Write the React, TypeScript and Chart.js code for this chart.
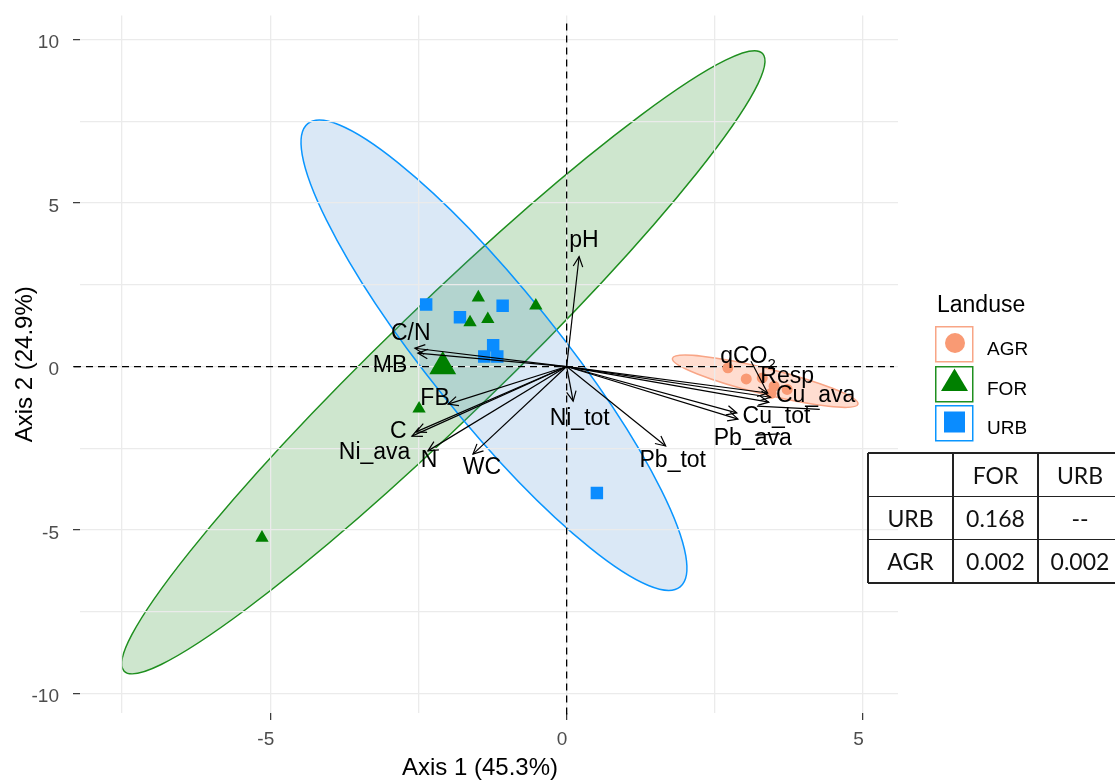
import React, { useEffect, useRef } from "react";
import { Chart, registerables } from "chart.js";

Chart.register(...registerables);

const FONT = "'Liberation Sans', Arial, sans-serif";

// Axis ranges and ticks
const xMin = -8.21;
const xMax = 5.59;
const yMin = -10.6;
const yMax = 10.74;
const xTickValues = [-7.5, -5, -2.5, 0, 2.5, 5];
const yTickValues = [-10, -7.5, -5, -2.5, 0, 2.5, 5, 7.5, 10];
const xTitle = "Axis 1 (45.3%)";
const yTitle = "Axis 2 (24.9%)";

// Site scores
const forX = [-1.49, -0.52, -1.63, -1.33, -2.49, -5.14];
const forY = [2.11, 1.86, 1.35, 1.45, -1.29, -5.24];
const forBigX = [-2.09];
const forBigY = [0.0];
const urbX = [-2.37, -1.08, -1.8, -1.24, -1.39, -1.17, 0.51];
const urbY = [1.9, 1.86, 1.51, 0.65, 0.31, 0.31, -3.87];
const agrX = [2.72, 3.03, 3.3, 3.5, 3.72, 3.45];
const agrY = [-0.04, -0.38, -0.35, -0.6, -0.7, -0.82];

// Confidence ellipses (centre + two conjugate semi-axes, data units)
const ellipseGroups = ["FOR", "URB", "AGR"];
const ellipseCx = [-2.08, -1.226, 3.35];
const ellipseCy = [0.13, 0.345, -0.45];
const ellipseAx = [5.385, 3.141, 1.565];
const ellipseAy = [9.45, -7.086, -0.7];
const ellipseBx = [0.669, 0.855, -0.053];
const ellipseBy = [-1.247, 1.238, -0.385];

// Variable loadings (arrows) and their labels
const varNames = ["pH", "C/N", "MB", "FB", "C", "Ni_ava", "N", "WC", "Ni_tot", "Pb_tot", "Pb_ava", "Cu_tot", "Cu_ava", "Resp", "qCO2"];
const arrowX = [0.21, -2.56, -2.51, -2.0, -2.61, -2.54, -2.34, -1.58, 0.11, 1.67, 2.89, 2.87, 3.41, 3.44, 3.39];
const arrowY = [3.36, 0.56, 0.41, -1.15, -2.13, -2.0, -2.58, -2.68, -1.06, -2.43, -1.61, -1.42, -1.09, -0.94, -0.81];
const labelX = [0.29, -2.63, -2.98, -2.22, -2.84, -3.24, -2.32, -1.43, 0.22, 1.79, 3.14, 3.54, 4.2, 3.72, 3.06];
const labelY = [3.84, 1.02, 0.04, -0.97, -2.0, -2.64, -2.87, -3.1, -1.58, -2.89, -2.22, -1.54, -0.88, -0.3, 0.3];

// Label leader segments
const leaderX1 = [3.11, 3.21, 3.18];
const leaderY1 = [0.16, -1.21, -2.1];
const leaderX2 = [3.39, 4.27, 3.6];
const leaderY2 = [-0.81, -1.31, -2.06];

// Legend and table
const legendTitle = "Landuse";
const legendLabels = ["AGR", "FOR", "URB"];
const tableHeader = ["", "FOR", "URB"];
const tableRows = [
  ["URB", "0.168", "--"],
  ["AGR", "0.002", "0.002"],
];

const COLORS: Record<string, { fill: string; stroke: string; point: string }> = {
  FOR: { fill: "rgba(34,139,34,0.22)", stroke: "#1f8f1f", point: "#008000" },
  URB: { fill: "rgba(70,140,210,0.2)", stroke: "#0a96ff", point: "#0a8cff" },
  AGR: { fill: "rgba(255,150,110,0.32)", stroke: "#f8a586", point: "#f99a74" },
};

const isMajor = (v: number) => Math.abs(v % 5) < 1e-9;

const biplotPlugin = {
  id: "biplot",
  beforeDraw(chart: any) {
    const { ctx, chartArea: ca, scales } = chart;
    const xs = scales.x;
    const ys = scales.y;
    ctx.save();
    ctx.beginPath();
    ctx.rect(ca.left, ca.top, ca.right - ca.left, ca.bottom - ca.top);
    ctx.clip();
    ellipseGroups.forEach((g, i) => {
      const cx = xs.getPixelForValue(ellipseCx[i]);
      const cy = ys.getPixelForValue(ellipseCy[i]);
      const ax = xs.getPixelForValue(ellipseCx[i] + ellipseAx[i]) - cx;
      const ay = ys.getPixelForValue(ellipseCy[i] + ellipseAy[i]) - cy;
      const bx = xs.getPixelForValue(ellipseCx[i] + ellipseBx[i]) - cx;
      const by = ys.getPixelForValue(ellipseCy[i] + ellipseBy[i]) - cy;
      ctx.save();
      ctx.beginPath();
      ctx.translate(cx, cy);
      ctx.transform(ax, ay, bx, by, 0, 0);
      ctx.arc(0, 0, 1, 0, Math.PI * 2);
      ctx.restore();
      ctx.fillStyle = COLORS[g].fill;
      ctx.fill();
      ctx.strokeStyle = COLORS[g].stroke;
      ctx.lineWidth = 1.5;
      ctx.stroke();
    });
    ctx.restore();
  },
  beforeDatasetsDraw(chart: any) {
    const { ctx, chartArea: ca, scales } = chart;
    const x0 = scales.x.getPixelForValue(0);
    const y0 = scales.y.getPixelForValue(0);
    ctx.save();
    ctx.strokeStyle = "#000";
    ctx.lineWidth = 1.3;
    ctx.setLineDash([7, 5]);
    ctx.beginPath();
    ctx.moveTo(x0, ca.top + 8);
    ctx.lineTo(x0, ca.bottom + 6);
    ctx.moveTo(ca.left - 6, y0);
    ctx.lineTo(ca.right - 4, y0);
    ctx.stroke();
    ctx.restore();
  },
  afterDatasetsDraw(chart: any) {
    const { ctx, scales } = chart;
    const xs = scales.x;
    const ys = scales.y;
    const ox = xs.getPixelForValue(0);
    const oy = ys.getPixelForValue(0);
    ctx.save();
    ctx.strokeStyle = "#000";
    ctx.lineWidth = 1.2;
    // arrow heads
    varNames.forEach((_, i) => {
      const px = xs.getPixelForValue(arrowX[i]);
      const py = ys.getPixelForValue(arrowY[i]);
      const ang = Math.atan2(py - oy, px - ox);
      const L = 11;
      const a = 0.45;
      ctx.beginPath();
      ctx.moveTo(px - L * Math.cos(ang - a), py - L * Math.sin(ang - a));
      ctx.lineTo(px, py);
      ctx.lineTo(px - L * Math.cos(ang + a), py - L * Math.sin(ang + a));
      ctx.stroke();
    });
    // leaders
    leaderX1.forEach((_, i) => {
      ctx.beginPath();
      ctx.moveTo(xs.getPixelForValue(leaderX1[i]), ys.getPixelForValue(leaderY1[i]));
      ctx.lineTo(xs.getPixelForValue(leaderX2[i]), ys.getPixelForValue(leaderY2[i]));
      ctx.stroke();
    });
    // labels
    ctx.fillStyle = "#000";
    ctx.textBaseline = "middle";
    varNames.forEach((name, i) => {
      const px = xs.getPixelForValue(labelX[i]);
      const py = ys.getPixelForValue(labelY[i]);
      if (name === "qCO2") {
        ctx.font = `23px ${FONT}`;
        const w1 = ctx.measureText("qCO").width;
        ctx.font = `15px ${FONT}`;
        const w2 = ctx.measureText("2").width;
        const start = px - (w1 + w2) / 2;
        ctx.textAlign = "left";
        ctx.font = `23px ${FONT}`;
        ctx.fillText("qCO", start, py);
        ctx.font = `15px ${FONT}`;
        ctx.fillText("2", start + w1, py + 8);
      } else {
        ctx.font = `23px ${FONT}`;
        ctx.textAlign = "center";
        ctx.fillText(name, px, py);
      }
    });
    ctx.restore();
  },
  afterDraw(chart: any) {
    const { ctx } = chart;
    ctx.save();
    ctx.fillStyle = "#000";
    ctx.font = `24px ${FONT}`;
    ctx.textAlign = "center";
    ctx.textBaseline = "middle";
    ctx.fillText(xTitle, 480, 768);
    ctx.restore();
  },
};

function Legend() {
  const keys = [
    { top: 326, g: "AGR" },
    { top: 366, g: "FOR" },
    { top: 405, g: "URB" },
  ];
  return (
    <>
      <div style={{ position: "absolute", left: 937, top: 293, fontFamily: FONT, fontSize: 23, lineHeight: "23px", color: "#000" }}>{legendTitle}</div>
      {keys.map((k, i) => (
        <React.Fragment key={k.g}>
          <svg style={{ position: "absolute", left: 935, top: k.top }} width={39} height={37}>
            <rect x={0.75} y={0.75} width={37} height={35} fill="#fff" stroke={COLORS[k.g].stroke} strokeWidth={1.5} />
            {k.g === "AGR" && <circle cx={20} cy={17} r={10} fill={COLORS.AGR.point} />}
            {k.g === "FOR" && <polygon points="19.5,2.5 33,25 6,25" fill={COLORS.FOR.point} />}
            {k.g === "URB" && <rect x={9} y={6.5} width={21} height={21} fill={COLORS.URB.point} />}
          </svg>
          <div style={{ position: "absolute", left: 987, top: k.top + 13, fontFamily: FONT, fontSize: 19, lineHeight: "19px", color: "#000" }}>{legendLabels[i]}</div>
        </React.Fragment>
      ))}
    </>
  );
}

function Table() {
  const left = 868;
  const top = 453;
  const colW = [85, 85, 84];
  const rowH = 43.3;
  const colX = [left, left + colW[0], left + colW[0] + colW[1], left + colW[0] + colW[1] + colW[2]];
  const rows = [tableHeader, ...tableRows];
  const lines: React.ReactNode[] = [];
  for (let r = 0; r <= rows.length; r++) {
    lines.push(<div key={"h" + r} style={{ position: "absolute", left, top: top + r * rowH - 0.75, width: colX[3] - left, height: 1.5, background: "#222" }} />);
  }
  for (let c = 0; c < colX.length; c++) {
    lines.push(<div key={"v" + c} style={{ position: "absolute", left: colX[c] - 0.75, top, width: 1.5, height: rowH * rows.length, background: "#222" }} />);
  }
  return (
    <>
      {lines}
      {rows.map((row, r) =>
        row.map((cell, c) => (
          <div
            key={r + "-" + c}
            style={{
              position: "absolute",
              left: colX[c],
              top: top + r * rowH,
              width: colW[c],
              height: rowH,
              display: "flex",
              alignItems: "center",
              justifyContent: "center",
              fontFamily: "Lato, 'Open Sans', sans-serif",
              fontSize: 23,
              color: "#111",
            }}
          >
            {cell}
          </div>
        ))
      )}
    </>
  );
}

export default function App() {
  const ref = useRef<HTMLCanvasElement>(null);
  useEffect(() => {
    if (!ref.current) return;
    const pts = (xs: number[], ys: number[]) => xs.map((x, i) => ({ x, y: ys[i] }));
    const arrowSets = varNames.map((name, i) => ({
      label: name,
      data: [
        { x: 0, y: 0 },
        { x: arrowX[i], y: arrowY[i] },
      ],
      showLine: true,
      borderColor: "#000",
      borderWidth: 1.2,
      pointRadius: 0,
      order: 0,
    }));
    const chart = new Chart(ref.current, {
      type: "scatter",
      data: {
        datasets: [
          ...arrowSets,
          { label: "AGR", data: pts(agrX, agrY), pointStyle: "circle", pointRadius: 5.5, backgroundColor: COLORS.AGR.point, borderWidth: 0, order: 1 },
          { label: "FOR", data: pts(forX, forY), pointStyle: "triangle", pointRadius: 7.7, backgroundColor: COLORS.FOR.point, borderWidth: 0, order: 1 },
          { label: "FOR", data: pts(forBigX, forBigY), pointStyle: "triangle", pointRadius: 15.5, backgroundColor: COLORS.FOR.point, borderWidth: 0, order: 1 },
          { label: "URB", data: pts(urbX, urbY), pointStyle: "rect", pointRadius: 8.8, backgroundColor: COLORS.URB.point, borderWidth: 0, order: 1 },
        ] as any,
      },
      options: {
        animation: false,
        responsive: false,
        events: [],
        layout: { padding: { left: 0, top: 13, right: 217, bottom: 0 } },
        plugins: { legend: { display: false }, tooltip: { enabled: false } },
        scales: {
          x: {
            type: "linear",
            min: xMin,
            max: xMax,
            afterBuildTicks: (s: any) => {
              s.ticks = xTickValues.map((v) => ({ value: v }));
            },
            afterFit: (s: any) => {
              s.height = 67;
              s.paddingLeft = 0;
              s.paddingRight = 0;
            },
            border: { display: false },
            grid: {
              color: "#ebebeb",
              lineWidth: 1.3,
              tickLength: 7,
              tickWidth: 1.2,
              tickColor: (c: any) => (isMajor(c.tick.value) ? "#333" : "rgba(0,0,0,0)"),
            },
            ticks: {
              autoSkip: false,
              maxRotation: 0,
              padding: 8,
              labelOffset: -4.5,
              color: "#4d4d4d",
              font: { family: FONT, size: 19 },
              callback: (v: any) => (isMajor(Number(v)) ? String(v) : ""),
            },
          },
          y: {
            type: "linear",
            min: yMin,
            max: yMax,
            afterBuildTicks: (s: any) => {
              s.ticks = yTickValues.map((v) => ({ value: v }));
            },
            afterFit: (s: any) => {
              s.width = 80;
              s.paddingTop = 0;
              s.paddingBottom = 0;
            },
            border: { display: false },
            grid: {
              color: "#ebebeb",
              lineWidth: 1.3,
              tickLength: 7,
              tickWidth: 1.2,
              tickColor: (c: any) => (isMajor(c.tick.value) ? "#333" : "rgba(0,0,0,0)"),
            },
            ticks: {
              autoSkip: false,
              padding: 14,
              labelOffset: 3.5,
              color: "#4d4d4d",
              font: { family: FONT, size: 19 },
              callback: (v: any) => (isMajor(Number(v)) ? String(v) : ""),
            },
            title: {
              display: true,
              text: yTitle,
              color: "#000",
              font: { family: FONT, size: 24, lineHeight: 1 },
              padding: { top: 13, bottom: 0 },
            },
          },
        },
      },
      plugins: [biplotPlugin],
    } as any);
    return () => chart.destroy();
  }, []);

  return (
    <div style={{ position: "absolute", left: 0, top: 0, width: 1115, height: 780, overflow: "hidden", background: "#fff" }}>
      <canvas ref={ref} width={1115} height={780} style={{ position: "absolute", left: 0, top: 0, width: 1115, height: 780 }} />
      <Legend />
      <Table />
    </div>
  );
}
